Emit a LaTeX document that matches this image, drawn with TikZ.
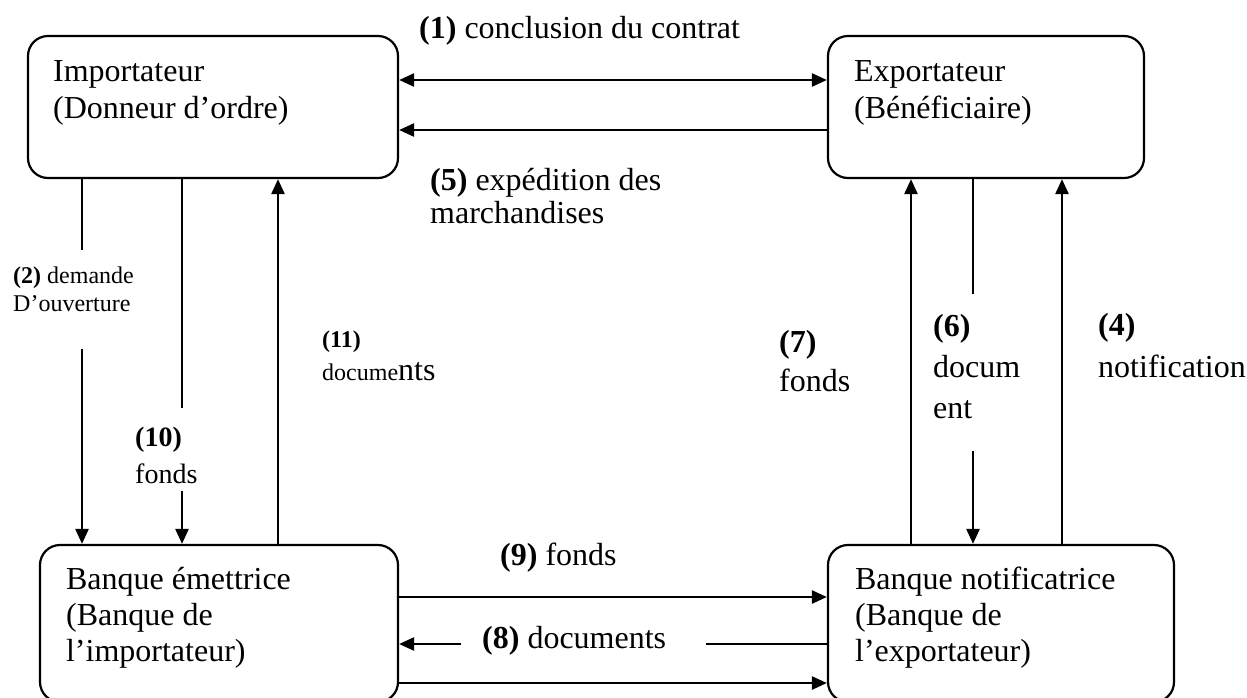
\documentclass[tikz,border=0pt]{standalone}
\usepackage{fontspec}
\setmainfont{Liberation Serif}
\usepackage{tikz}
\usetikzlibrary{
  arrows.meta,
  positioning
}

\tikzset{
  party/.style={draw, rectangle, rounded corners=20pt, line width=2.2pt, inner sep=0pt},
  partytext/.style={anchor=base west, align=left, inner sep=0pt, font=\fontsize{32}{37}\selectfont},
  steplab/.style={anchor=base west, align=left, inner sep=0pt, font=\fontsize{32}{40}\selectfont},
  smalllab/.style={anchor=base west, align=left, inner sep=0pt, font=\fontsize{24}{28}\selectfont},
  flow/.style={line width=2.5pt, -{Triangle[length=15pt,width=13pt]}},
  flowline/.style={line width=2.5pt}
}

\begin{document}
\begin{tikzpicture}[x=1pt, y=-1pt]

\useasboundingbox (0,0) rectangle (1247,697);

% Parties (text anchored on the baseline of its last line)
\node[party, minimum width=370pt, minimum height=142pt] (imp) at (213,107) {};
\node[party, minimum width=316pt, minimum height=142pt] (exp) at (986,107) {};
\node[party, minimum width=358pt, minimum height=157pt] (bem) at (219,623.5) {};
\node[party, minimum width=346pt, minimum height=157pt] (bno) at (1001,623.5) {};

\node[partytext] (timp) at ([shift={(26,84)}]imp.north west) {Importateur\\(Donneur d’ordre)};
\node[partytext] (texp) at ([shift={(27,84)}]exp.north west) {Exportateur\\(Bénéficiaire)};
\node[partytext, font=\fontsize{32}{36}\selectfont] (tbem) at ([shift={(27,118)}]bem.north west)
  {Banque émettrice\\(Banque de\\l’importateur)};
\node[partytext, font=\fontsize{32}{36}\selectfont] (tbno) at ([shift={(28,118)}]bno.north west)
  {Banque notificatrice\\(Banque de\\l’exportateur)};

% Lanes
\coordinate (y1) at (0,80);
\coordinate (y5) at (0,130);
\coordinate (y9) at (0,597);
\coordinate (y8) at (0,644);
\coordinate (y3) at (0,683);
\coordinate (x2) at (82,0);
\coordinate (x10) at (182,0);
\coordinate (x11) at (278,0);
\coordinate (x7) at (911,0);
\coordinate (x6) at (973,0);
\coordinate (x4) at (1062,0);

% Top flows
\draw[flow, {Triangle[length=15pt,width=13pt]}-{Triangle[length=15pt,width=13pt]}]
  (imp.east |- y1) -- (exp.west |- y1);
\draw[flow] (exp.west |- y5) -- (imp.east |- y5);

% Left flows
\draw[flowline] (imp.south -| x2) -- ++(0,71);
\draw[flow] (bem.north -| x2) ++(0,-195) -- (bem.north -| x2);
\draw[flowline] (imp.south -| x10) -- ++(0,229);
\draw[flow] (bem.north -| x10) ++(0,-53) -- (bem.north -| x10);
\draw[flow] (bem.north -| x11) -- (imp.south -| x11);

% Right flows
\draw[flow] (bno.north -| x7) -- (exp.south -| x7);
\draw[flowline] (exp.south -| x6) -- ++(0,115);
\draw[flow] (bno.north -| x6) ++(0,-93) -- (bno.north -| x6);
\draw[flow] (bno.north -| x4) -- (exp.south -| x4);

% Bottom flows
\draw[flow] (bem.east |- y9) -- (bno.west |- y9);
\draw[flowline] (bno.west |- y8) -- ++(-121,0);
\draw[flow] (bem.east |- y8) ++(62,0) -- (bem.east |- y8);
\draw[flow] (bem.east |- y3) -- (bno.west |- y3);

% Step labels
\node[steplab] (lab1) at (419,38) {\textbf{(1)} conclusion du contrat};
\node[steplab, font=\fontsize{32}{33}\selectfont] (lab5) at (430,223) {\textbf{(5)} expédition des\\marchandises};
\node[smalllab] (lab2) at (13,311) {\textbf{(2)} demande\\D’ouverture};
\node[smalllab, font=\fontsize{24}{33}\selectfont] (lab11) at (322,380)
  {\textbf{(11)}\\docume{\fontsize{32}{33}\selectfont nts}};
\node[steplab, font=\fontsize{28}{37}\selectfont] (lab10) at (135,483) {\textbf{(10)}\\fonds};
\node[steplab, font=\fontsize{32}{39}\selectfont] (lab7) at (779,391) {\textbf{(7)}\\fonds};
\node[steplab, font=\fontsize{32}{41}\selectfont] (lab6) at (933,418) {\textbf{(6)}\\docum\\ent};
\node[steplab, font=\fontsize{32}{42}\selectfont] (lab4) at (1098,377) {\textbf{(4)}\\notification};
\node[steplab] (lab9) at (500,565) {\textbf{(9)} fonds};
\node[steplab] (lab8) at (482,648) {\textbf{(8)} documents};

\end{tikzpicture}
\end{document}
